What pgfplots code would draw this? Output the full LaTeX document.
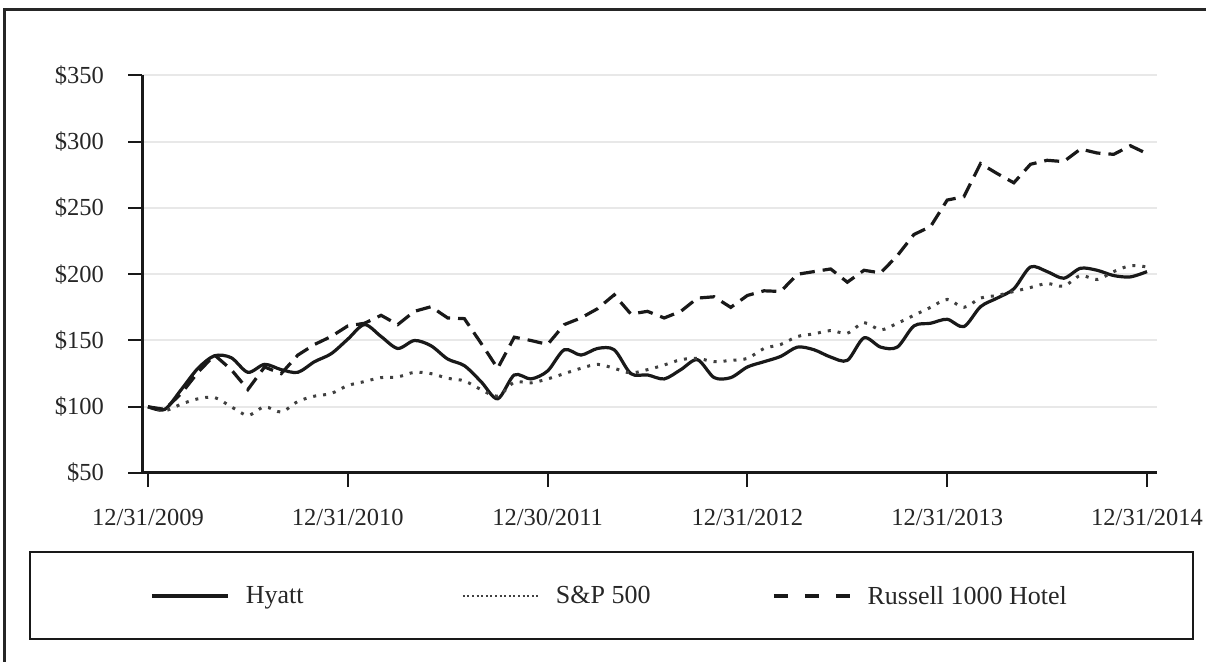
\documentclass[border=0pt]{standalone}
\usepackage{pgfplots}
\pgfplotsset{compat=1.18}
\usepackage{fontspec}
\setmainfont{Liberation Serif}
\begin{document}
\begin{tikzpicture}
\useasboundingbox (0pt,0pt) rectangle (1206pt,661pt);
\begin{scope}
\clip (0pt,0pt) rectangle (1206pt,661pt);
\draw[line width=3pt, black!85] (4pt,-10pt) -- (4pt,651pt) -- (1230pt,651pt);
\end{scope}
\begin{axis}[
  at={(142pt,188pt)}, anchor=south west,
  scale only axis, width=1015pt, height=397.5pt,
  xmin=-0.36, xmax=60.6, ymin=50, ymax=350,
  axis x line*=bottom, axis y line*=left,
  axis line style={line width=3pt, black!90},
  ytick={50,100,150,200,250,300,350},
  yticklabels={\$50,\$100,\$150,\$200,\$250,\$300,\$350},
  xtick={0,12,24,36,48,60},
  xticklabels={12/31/2009,12/31/2010,12/30/2011,12/31/2012,12/31/2013,12/31/2014},
  tick align=outside, major tick length=14pt,
  tick style={line width=2pt, black!90},
  ymajorgrids, grid style={line width=2pt, black!9},
  ticklabel style={font=\fontsize{24.5}{28}\selectfont, text=black!85, inner sep=0pt},
  yticklabel style={anchor=east, xshift=-24pt},
  xticklabel style={anchor=north, yshift=-22pt},
  legend columns=3,
  legend image code/.code={\draw[#1] (0pt,0pt) -- (76pt,0pt);},
  legend style={at={(axis description cs:0.00788,-0.3094)}, anchor=west,
    draw=none, fill=none, inner sep=0pt,
    font=\fontsize{26}{30}\selectfont, text=black!85,
    nodes={inner sep=0pt},
    /tikz/every odd column/.append style={column sep=16pt}},
]
\addplot[line width=3.2pt, black!90, smooth, tension=0.5,
  legend image post style={line width=3.6pt}] table {
m v
0 100
1 98
2 113
3 129
4 138.5
5 137
6 126
7 132
8 128
9 126
10 134
11 140
12 151
13 162
14 153
15 144
16 150
17 146
18 136
19 131
20 119
21 106
22 124
23 121
24 127
25 143
26 139
27 144
28 143
29 125
30 124
31 121
32 128
33 135.5
34 122
35 122
36 130
37 134
38 138
39 145
40 143
41 137.5
42 135
43 152
44 145
45 145
46 161
47 163
48 166
49 160.5
50 175.5
51 182
52 189
53 205.5
54 202
55 197
56 204.5
57 203
58 199
59 198
60 202
};
\addlegendentry{\makebox[216pt][l]{Hyatt}}
\addplot[line width=3pt, black!75, dash pattern=on 3pt off 7pt, smooth, tension=0.5,
  legend image post style={line width=2.2pt, dash pattern=on 2pt off 2.6pt}] table {
m v
0 100
1 97
2 102
3 106
4 107
5 100
6 93.5
7 100
8 96
9 104
10 108
11 110
12 116
13 119
14 122
15 122.5
16 126
17 125
18 121.5
19 119.5
20 113
21 108
22 118.5
23 118
24 121
25 125
26 129
27 132
28 129
29 125.5
30 128
31 131.5
32 135.5
33 136.5
34 134
35 135
36 136.5
37 144
38 147
39 153
40 155
41 157.5
42 155.5
43 163.5
44 158
45 163
46 169
47 175
48 181
49 175
50 182
51 184
52 187
53 190
54 193
55 191
56 199
57 196
58 202
59 206.5
60 205.5
};
\addlegendentry{\makebox[216pt][l]{S\&P 500}}
\addplot[line width=3.2pt, black!90, dash pattern=on 15pt off 8pt,
  legend image post style={line width=3.6pt, dash pattern=on 14pt off 17pt}] table {
m v
0 100
1 98
2 110
3 126
4 139
5 128
6 113
7 130
8 125
9 139
10 147
11 153
12 161
13 163
14 169
15 162
16 172
17 175.5
18 167
19 166.5
20 148
21 129
22 152.5
23 150
24 147
25 162
26 167
27 174
28 184.5
29 170
30 172
31 167
32 172
33 182
34 183
35 175
36 184
37 187.5
38 187
39 200
40 202
41 204
42 194
43 203
44 201
45 214
46 230
47 236
48 256
49 258.5
50 283.5
51 276
52 269
53 283
54 286
55 285
56 294.5
57 291.5
58 290.5
59 297
60 291
};
\addlegendentry{Russell 1000 Hotel}
\end{axis}
\draw[line width=2.5pt, black!90] (30pt,22pt) rectangle (1193pt,109pt);
\end{tikzpicture}
\end{document}
